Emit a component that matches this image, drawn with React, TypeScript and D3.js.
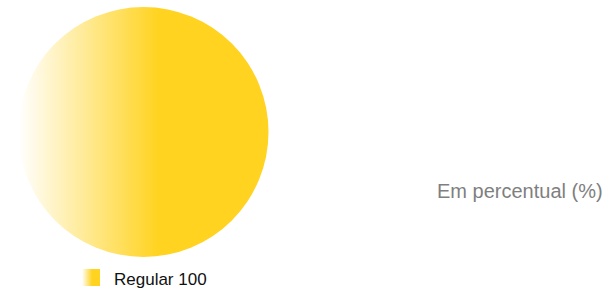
import React from "react";
import * as d3 from "d3";

const categories = ["Regular"];
const values = [100];
const unitLabel = "Em percentual (%)";

const width = 607;
const height = 289;

export default function App() {
  const pie = d3.pie<number>().sort(null).value((d) => d);
  const slices = pie(values);
  const radius = 125;
  const arc = d3.arc<d3.PieArcDatum<number>>().innerRadius(0).outerRadius(radius);
  const cx = 143.5;
  const cy = 132;

  return (
    <svg
      width={width}
      height={height}
      style={{ position: "absolute", left: 0, top: 0, fontFamily: "'Liberation Sans', Arial, sans-serif" }}
    >
      <defs>
        <linearGradient id="gradRegular" x1="0" y1="0" x2="1" y2="0">
          <stop offset="0" stopColor="#ffffff" />
          <stop offset="0.56" stopColor="#ffd320" />
          <stop offset="1" stopColor="#ffd320" />
        </linearGradient>
      </defs>
      <g transform={`translate(${cx},${cy})`}>
        {slices.map((s, i) => (
          <path key={categories[i]} d={arc(s) || ""} fill="url(#gradRegular)" />
        ))}
      </g>
      <g transform="translate(82,269)">
        {categories.map((c, i) => (
          <g key={c}>
            <rect x={0} y={0} width={18} height={17} fill="url(#gradRegular)" />
            <text x={32} y={16} fontSize={17} fill="#111">
              {c} {values[i]}
            </text>
          </g>
        ))}
      </g>
      <text x={437} y={198} fontSize={20} fill="#7f7f7f">
        {unitLabel}
      </text>
    </svg>
  );
}
